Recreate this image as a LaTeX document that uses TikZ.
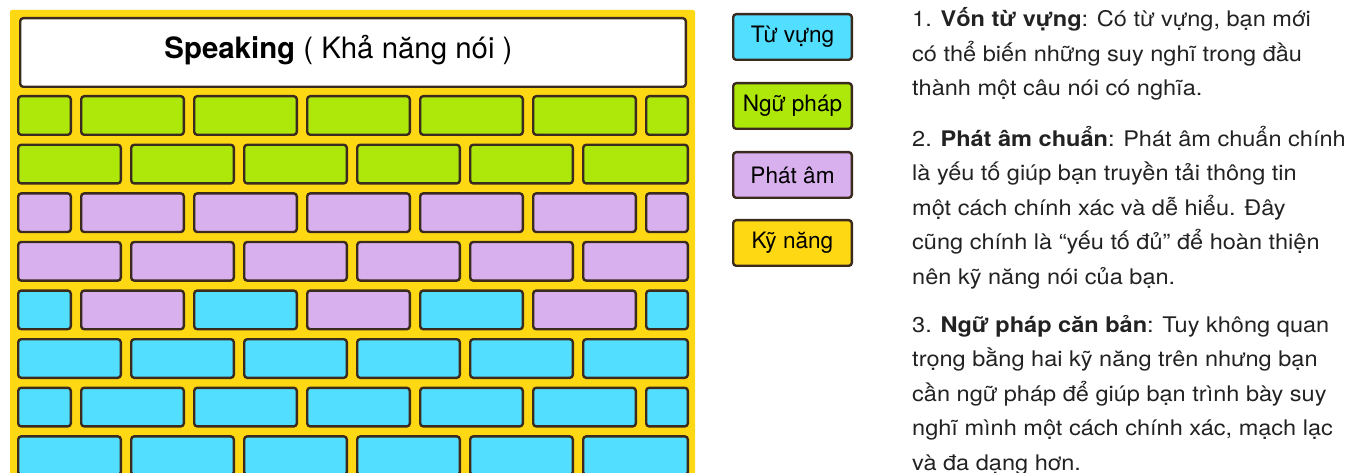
\documentclass[tikz,border=0pt]{standalone}
\usepackage{graphicx}
\usepackage{fontspec}
\setmainfont{TeX Gyre Heros}
\definecolor{wallyellow}{HTML}{FFD814}
\definecolor{brickgreen}{HTML}{AEE80A}
\definecolor{brickpurple}{HTML}{D8B0EE}
\definecolor{brickblue}{HTML}{52DFFF}
\definecolor{mortar}{HTML}{3B2A1E}
\definecolor{bodytext}{HTML}{222222}
\tikzset{
  brick/.style={draw=mortar, line width=2.4pt, rounded corners=3pt, inner sep=0pt},
  headerbox/.style={draw=mortar, fill=white, line width=2.4pt, rounded corners=3pt, inner sep=0pt},
  keybox/.style={draw=mortar, line width=2.4pt, rounded corners=3pt, inner sep=0pt,
    minimum width=118.6pt, minimum height=45.6pt,
    font=\fontsize{22.6}{25}\selectfont, text=black},
  para/.style={anchor=base west, inner sep=0pt, text=bodytext,
    font=\fontsize{21.5}{34.5}\selectfont},
}
% one stretched line of the explanation text
\newcommand\wideline[1]{\hbox{\scalebox{1.095}[1]{#1}}}
\begin{document}
\begin{tikzpicture}[x=1pt,y=-1pt]
\useasboundingbox (0,0) rectangle (1363,473);
\clip (0,0) rectangle (1363,473);

% yellow wall behind the bricks
\fill[wallyellow, rounded corners=2pt] (10,10) rectangle (695,490);

% title plate
\node[headerbox, minimum width=665.6pt, minimum height=68.6pt] (title) at (353,52.5) {};
\node[anchor=base, inner sep=0pt, font=\fontsize{29.4}{32}\selectfont] (titletext) at (338.5,58.5)
  {\textbf{Speaking} ( Khả năng nói )};

% rows starting with a half brick
\foreach \top/\col/\r in {95/brickgreen/1, 192.2/brickpurple/3, 386.6/brickblue/7}{
  \foreach \a/\b [count=\i] in {17/72, 80/185, 193/298, 306/411, 419/524, 532/637, 645/689}{
    \node[brick, fill=\col, minimum width={\b-\a-2.4}, minimum height=38.6pt]
      (b\r-\i) at ({(\a+\b)/2},{\top+20.5}) {};
  }
}
% mixed row of vocabulary and pronunciation bricks
\foreach \a/\b/\col [count=\i] in {17/72/brickblue, 80/185/brickpurple, 193/298/brickblue,
    306/411/brickpurple, 419/524/brickblue, 532/637/brickpurple, 645/689/brickblue}{
  \node[brick, fill=\col, minimum width={\b-\a-2.4}, minimum height=38.6pt]
    (b5-\i) at ({(\a+\b)/2},{289.4+20.5}) {};
}
% rows starting with a full brick
\foreach \top/\col/\r in {143.6/brickgreen/2, 240.8/brickpurple/4, 338/brickblue/6, 435.2/brickblue/8}{
  \foreach \a/\b [count=\i] in {17/122, 130/235, 243/348, 356/461, 469/574, 582/689}{
    \node[brick, fill=\col, minimum width={\b-\a-2.4}, minimum height=38.6pt]
      (b\r-\i) at ({(\a+\b)/2},{\top+20.5}) {};
  }
}

% legend
\node[keybox, fill=brickblue]   (kvocab)  at (792.5,37)  {Từ vựng};
\node[keybox, fill=brickgreen]  (kgram)   at (792.5,106) {Ngữ pháp};
\node[keybox, fill=brickpurple] (kpron)   at (792.5,175) {Phát âm};
\node[keybox, fill=wallyellow]  (kskill)  at (792.5,243) {Kỹ năng};

% explanations
\node[para] (p1) at (912,27) {\vtop{\baselineskip=34.5pt
  \wideline{1. \textbf{Vốn từ vựng}: Có từ vựng, bạn mới}
  \wideline{có thể biến những suy nghĩ trong đầu}
  \wideline{thành một câu nói có nghĩa.}}};
\node[para] (p2) at (912,146.5) {\vtop{\baselineskip=34.5pt
  \wideline{2. \textbf{Phát âm chuẩn}: Phát âm chuẩn chính}
  \wideline{là yếu tố giúp bạn truyền tải thông tin}
  \wideline{một cách chính xác và dễ hiểu. Đây}
  \wideline{cũng chính là “yếu tố đủ” để hoàn thiện}
  \wideline{nên kỹ năng nói của bạn.}}};
\node[para] (p3) at (912,332) {\vtop{\baselineskip=34.5pt
  \wideline{3. \textbf{Ngữ pháp căn bản}: Tuy không quan}
  \wideline{trọng bằng hai kỹ năng trên nhưng bạn}
  \wideline{cần ngữ pháp để giúp bạn trình bày suy}
  \wideline{nghĩ mình một cách chính xác, mạch lạc}
  \wideline{và đa dạng hơn.}}};
\end{tikzpicture}
\end{document}
